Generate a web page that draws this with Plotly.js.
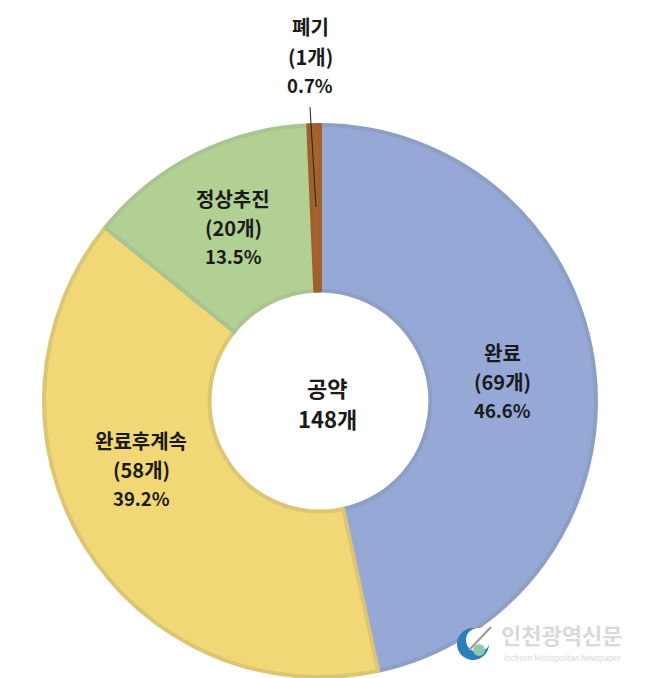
<!DOCTYPE html>
<html><head><meta charset="utf-8">
<script src="https://cdn.plot.ly/plotly-3.0.0.min.js"></script>
<style>html,body{margin:0;padding:0;background:#fff}</style></head>
<body><div id="c" style="width:647px;height:678px"></div>
<script>
const categories = ["완료","완료후계속","정상추진","폐기"];
const counts = [69,58,20,1];
const percents = ["46.6%","39.2%","13.5%","0.7%"];
const fills = ["#96a8d6","#f2d776","#b2cf94","#a5622b"];
const borders = ["#8e9fc6","#dcc673","#a9c48e","#a0602c"];
const font = "'Noto Sans CJK KR','Noto Sans',sans-serif";
const w=647,h=678;
const cx=320,cy=401,R=276;
const labelPos=[[503,381],[141,469],[233,227],[310,56]];
const lineGap=29;
const px=(x,y)=>({x:x/w,y:1-y/h,xref:"paper",yref:"paper",showarrow:false,xanchor:"center",yanchor:"middle"});
const annotations=[];
categories.forEach((c,i)=>{
  [c,"("+counts[i]+"개)",percents[i]].forEach((t,j)=>{
    annotations.push({...px(labelPos[i][0],labelPos[i][1]+(j-1)*lineGap),text:"<b>"+t+"</b>",
      font:{family:font,size:j===2?18.5:20,color:"#1a1a1a"}});
  });
});
annotations.push({...px(327,387),text:"<b>공약</b>",font:{family:font,size:22,color:"#1a1a1a"}});
annotations.push({...px(327,418),text:"<b>148개</b>",font:{family:font,size:22,color:"#1a1a1a"}});
annotations.push({...px(561,634),text:"<b>인천광역신문</b>",font:{family:font,size:22,color:"#d9d9d9"}});
annotations.push({...px(562,657),text:"Incheon Metropolitan Newspaper",font:{family:font,size:7.5,color:"#d4d4d4"}});
const circle=(x,y,r,c)=>({type:"circle",xref:"paper",yref:"paper",x0:(x-r)/w,x1:(x+r)/w,y0:1-(y+r)/h,y1:1-(y-r)/h,fillcolor:c,line:{width:0}});
Plotly.newPlot("c",[{
  type:"pie",hole:0.4,sort:false,direction:"clockwise",rotation:0,
  values:counts,labels:categories,textinfo:"none",hoverinfo:"none",
  marker:{colors:fills,line:{color:borders,width:4}},
  domain:{x:[(cx-R)/w,(cx+R)/w],y:[1-(cy+R)/h,1-(cy-R)/h]}
}],{
  width:w,height:h,margin:{l:0,r:0,t:0,b:0},paper_bgcolor:"#fff",showlegend:false,
  annotations,
  shapes:[
    {type:"line",xref:"paper",yref:"paper",x0:310/w,y0:1-107/h,x1:316/w,y1:1-207/h,line:{color:"#222",width:1}},
    circle(473,644,16,"#2a7fb8"),
    circle(478,640,12,"#ffffff"),
    circle(479,650,6,"#8fc7b0"),
    {type:"line",xref:"paper",yref:"paper",x0:469/w,y0:1-650/h,x1:491/w,y1:1-627/h,line:{color:"#9a9a9a",width:2}}
  ]
},{displayModeBar:false});
</script></body></html>
